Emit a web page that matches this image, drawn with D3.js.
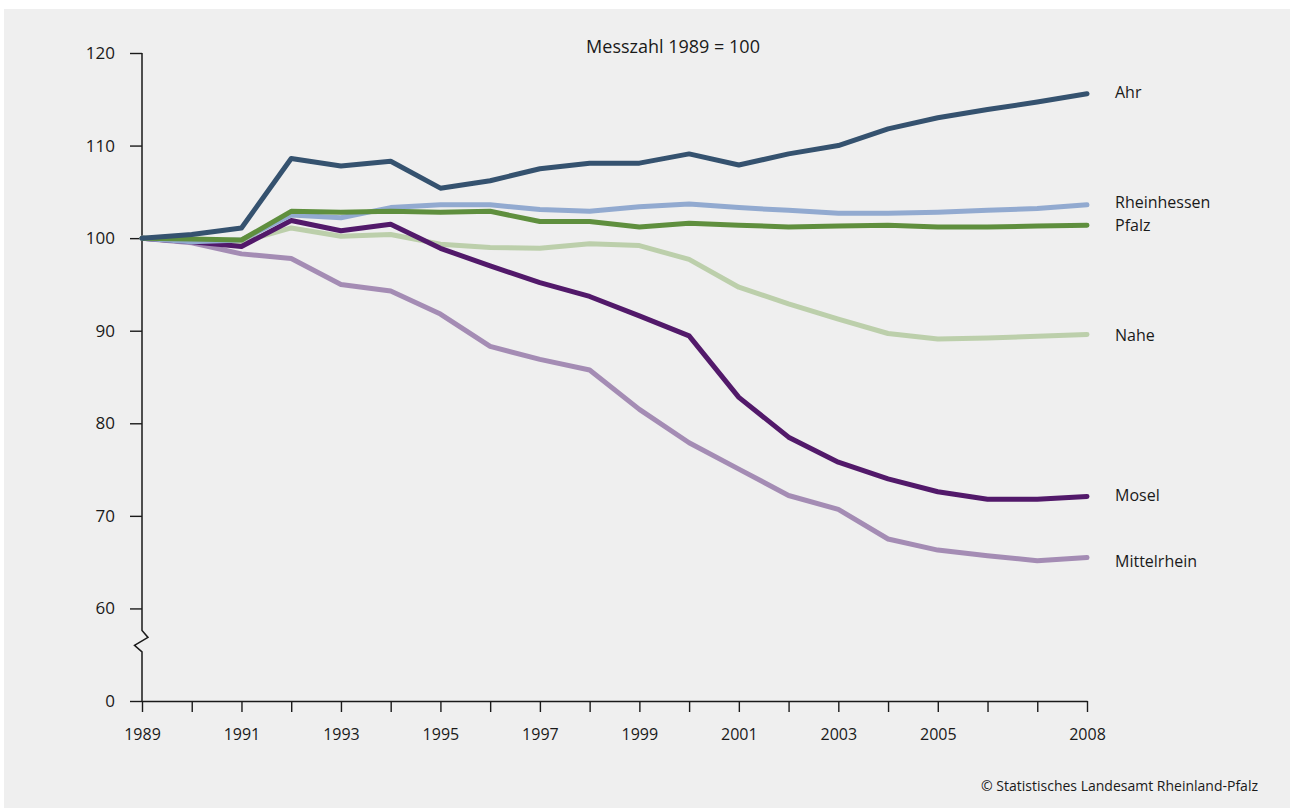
<!DOCTYPE html>
<html>
<head>
<meta charset="utf-8">
<script src="https://cdn.jsdelivr.net/npm/d3@7"></script>
<style>
  html, body { margin: 0; padding: 0; background: #ffffff; }
  svg { display: block; }
  text { font-family: "Open Sans", "Noto Sans", sans-serif; fill: #1a1a1a; }
</style>
</head>
<body>
<svg id="chart" width="1290" height="808"></svg>
<script>
// Years and index values (1989 = 100) per wine-growing region
const years = d3.range(1989, 2009);
const xLabelYears = [1989, 1991, 1993, 1995, 1997, 1999, 2001, 2003, 2005, 2008];
const yTicks = [0, 60, 70, 80, 90, 100, 110, 120];

const ahr         = [100, 100.4, 101.1, 108.6, 107.8, 108.3, 105.4, 106.2, 107.5, 108.1, 108.1, 109.1, 107.9, 109.1, 110.0, 111.8, 113.0, 113.9, 114.7, 115.6];
const rheinhessen = [100, 99.6, 99.8, 102.5, 102.2, 103.3, 103.6, 103.6, 103.1, 102.9, 103.4, 103.7, 103.3, 103.0, 102.7, 102.7, 102.8, 103.0, 103.2, 103.6];
const pfalz       = [100, 99.9, 99.8, 102.9, 102.8, 102.9, 102.8, 102.9, 101.8, 101.8, 101.2, 101.6, 101.4, 101.2, 101.3, 101.4, 101.2, 101.2, 101.3, 101.4];
const nahe        = [100, 99.8, 99.6, 101.1, 100.2, 100.4, 99.35, 99.0, 98.9, 99.4, 99.2, 97.7, 94.7, 92.9, 91.25, 89.7, 89.1, 89.2, 89.4, 89.6];
const mosel       = [100, 99.6, 99.1, 101.9, 100.8, 101.5, 98.9, 97.0, 95.2, 93.7, 91.6, 89.45, 82.8, 78.5, 75.8, 74.0, 72.6, 71.8, 71.8, 72.1];
const mittelrhein = [100, 99.5, 98.3, 97.8, 95.0, 94.3, 91.8, 88.3, 86.9, 85.75, 81.5, 77.9, 75.05, 72.2, 70.7, 67.5, 66.3, 65.7, 65.15, 65.5];

const seriesNames  = ["Mittelrhein", "Nahe", "Mosel", "Rheinhessen", "Pfalz", "Ahr"];
const seriesValues = [mittelrhein, nahe, mosel, rheinhessen, pfalz, ahr];
const seriesColors = ["#a48cb4", "#bccfab", "#52196a", "#92aad0", "#5f8f3e", "#35526f"];

const title = "Messzahl 1989 = 100";
const source = "\u00a9 Statistisches Landesamt Rheinland-Pfalz";

const svg = d3.select("#chart");
const W = 1290, H = 808;

// panel background
svg.append("rect").attr("x", 4).attr("y", 9).attr("width", W - 4).attr("height", H - 9).attr("fill", "#efefef");

const plotLeft = 142, plotRight = 1087, plotTop = 53, plotBottom = 701;
const x = d3.scaleLinear().domain([1989, 2008]).range([plotLeft, plotRight]);
// broken value axis: 0 sits one step below 60
const step = (plotBottom - plotTop) / 7;
const y = d3.scaleLinear().domain([0, 60, 120]).range([plotBottom, plotBottom - step, plotTop]);

// x axis
const xAxis = svg.append("g")
  .attr("transform", `translate(0,${plotBottom})`)
  .call(d3.axisBottom(x)
    .tickValues(years)
    .tickSize(11)
    .tickSizeOuter(0)
    .tickPadding(17)
    .tickFormat(d => xLabelYears.includes(d) ? String(d) : ""));
xAxis.select(".domain").attr("stroke", "#1a1a1a").attr("stroke-width", 1.6);
xAxis.selectAll(".tick line").attr("stroke", "#1a1a1a").attr("stroke-width", 1.4);
xAxis.selectAll(".tick text").style("font-size", "16px").attr("fill", "#1a1a1a");

// y axis (ticks only, the spine is drawn with its break below)
const yAxis = svg.append("g")
  .attr("transform", `translate(${plotLeft},0)`)
  .call(d3.axisLeft(y).tickValues(yTicks).tickSize(12).tickSizeOuter(0).tickPadding(15).tickFormat(d3.format("d")));
yAxis.select(".domain").remove();
yAxis.selectAll(".tick line").attr("stroke", "#1a1a1a").attr("stroke-width", 1.4);
yAxis.selectAll(".tick text").style("font-size", "17px").attr("fill", "#1a1a1a");

const y60 = y(60);
const spine = [
  [plotLeft, plotTop], [plotLeft, y60 + 22], [plotLeft + 6, y60 + 29], [plotLeft - 7.5, y60 + 37], [plotLeft, y60 + 43.5], [plotLeft, plotBottom]
];
svg.append("path")
  .attr("d", d3.line()(spine))
  .attr("fill", "none").attr("stroke", "#1a1a1a").attr("stroke-width", 1.5).attr("stroke-linejoin", "miter");

// lines
const line = d3.line().x((d, i) => x(years[i])).y(d => y(d));
seriesValues.forEach((vals, k) => {
  svg.append("path")
    .datum(vals)
    .attr("d", line)
    .attr("fill", "none")
    .attr("stroke", seriesColors[k])
    .attr("stroke-width", 5)
    .attr("stroke-linejoin", "round")
    .attr("stroke-linecap", "round");
});

// region labels at the line ends
const labelOffsets = { "Ahr": -1, "Rheinhessen": -2, "Pfalz": 1, "Nahe": 1, "Mosel": -1, "Mittelrhein": 4 };
seriesNames.forEach((name, k) => {
  const last = seriesValues[k][seriesValues[k].length - 1];
  svg.append("text")
    .attr("x", plotRight + 28)
    .attr("y", y(last) + labelOffsets[name])
    .attr("dy", "0.32em")
    .style("font-size", "16px")
    .text(name);
});

// title
svg.append("text")
  .attr("x", 673).attr("y", 53)
  .attr("text-anchor", "middle")
  .style("font-size", "18px")
  .text(title);

// source note
svg.append("text")
  .attr("x", 1258).attr("y", 791)
  .attr("text-anchor", "end")
  .style("font-size", "14px")
  .text(source);
</script>
</body>
</html>
